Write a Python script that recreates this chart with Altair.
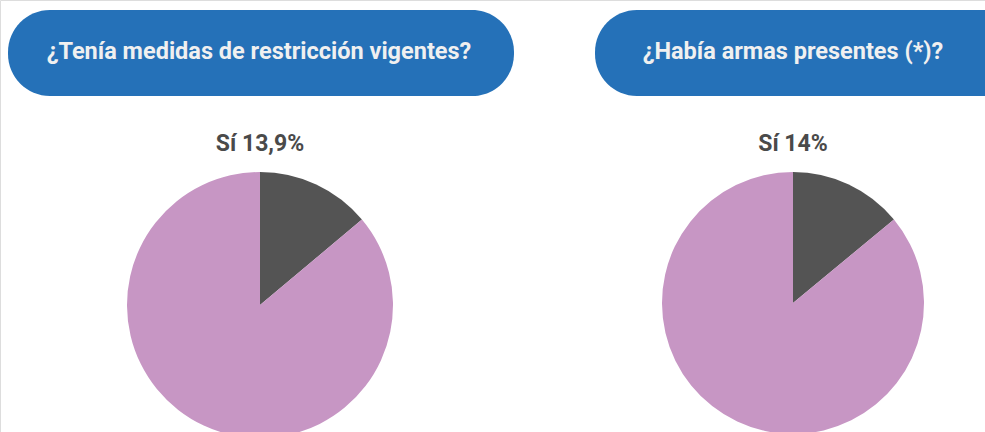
import altair as alt
import pandas as pd

# Data
questions = ["¿Tenía medidas de restricción vigentes?", "¿Había armas presentes (*)?"]
categories = ["Sí", "No"]
pie1_values = [13.9, 86.1]
pie2_values = [14.0, 86.0]
labels = ["Sí  13,9%", "Sí  14%"]

BLUE = "#2571b8"
DARK = "#545454"
PINK = "#c796c4"

W, H = 985, 432

def header(i, x1, x2, cx):
    df = pd.DataFrame({"q": [questions[i]]})
    box = alt.Chart(df).mark_rect(color=BLUE, cornerRadius=42).encode(
        x=alt.value(x1), x2=alt.value(x2), y=alt.value(10), y2=alt.value(96)
    )
    txt = alt.Chart(df).mark_text(
        font="Roboto", fontWeight="bold", fontSize=23.5, color="#f0f0f0",
        align="center", baseline="middle"
    ).encode(text="q:N", x=alt.value(cx), y=alt.value(52))
    return box + txt

def pie(vals, lab, cx, cy, r):
    df = pd.DataFrame({"cat": categories, "value": vals, "ord": [0, 1]})
    arc = alt.Chart(df).mark_arc(radius=r, stroke=None).encode(
        theta=alt.Theta("value:Q", stack=True),
        color=alt.Color("cat:N", scale=alt.Scale(domain=categories, range=[DARK, PINK]), legend=None),
        order=alt.Order("ord:Q"),
        x=alt.value(cx), y=alt.value(cy),
    )
    ldf = pd.DataFrame({"t": [lab]})
    t = alt.Chart(ldf).mark_text(
        font="Roboto", fontWeight="bold", fontSize=23, color="#4a4a4a",
        align="center", baseline="alphabetic"
    ).encode(text="t:N", x=alt.value(cx), y=alt.value(151))
    return arc, t

h1 = header(0, 8, 514, 259)
h2 = header(1, 595, 1030, 793)
a1, t1 = pie(pie1_values, labels[0], 260, 305, 133)
a2, t2 = pie(pie2_values, labels[1], 793, 303, 131)

chart = alt.layer(h1, h2, a1, t1, a2, t2).resolve_scale(theta="independent").properties(
    width=W, height=H, padding=0, autosize=alt.AutoSizeParams(type="none")
).configure_view(stroke=None).configure(background="white")

chart.save("out.html", embed_options={"renderer": "svg", "actions": False})
